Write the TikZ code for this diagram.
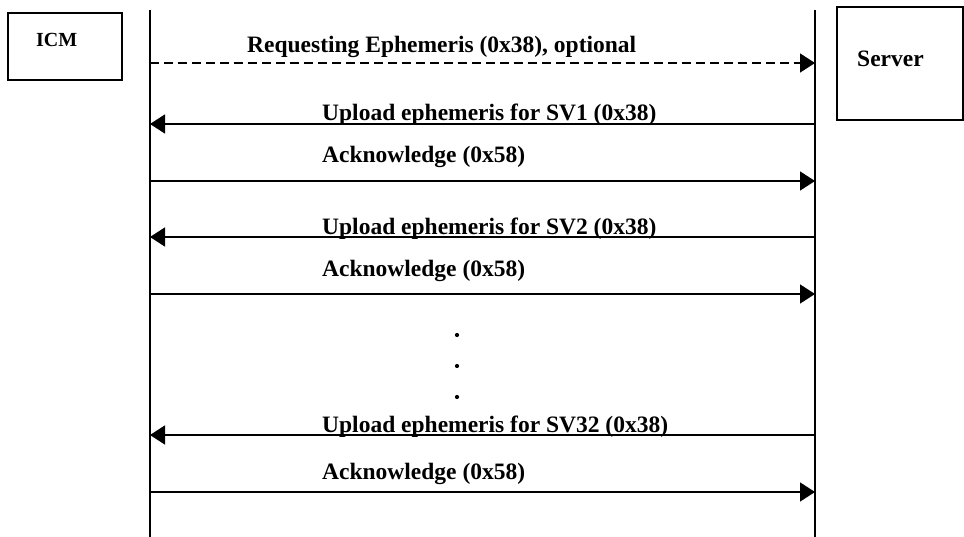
\documentclass[tikz,border=0pt]{standalone}
\usepackage{fontspec}
\setmainfont{Liberation Serif}
\usetikzlibrary{arrows.meta}
\begin{document}
\begin{tikzpicture}[x=1pt,y=-1pt,
  box/.style={draw,line width=1.5pt,inner sep=0pt},
  lbl/.style={anchor=base west,inner sep=0pt,font=\fontsize{23.5}{28}\selectfont\bfseries},
  lifeline/.style={line width=1.5pt},
  msg/.style={line width=1.6pt,-{Triangle[length=15pt,width=19pt]}},
  dmsg/.style={msg,dash pattern=on 9pt off 5pt},
  dotmark/.style={circle,fill=black,inner sep=0pt,minimum size=4.2pt}]
\useasboundingbox (0,0) rectangle (964,537);
% participant boxes
\node[box,minimum width=114pt,minimum height=67pt] (icmbox) at (65,46.5) {};
\node[lbl,font=\fontsize{20}{24}\selectfont\bfseries] (icm) at (36,47) {ICM};
\node[box,minimum width=126pt,minimum height=113pt] (srvbox) at (900,63.5) {};
\node[lbl] (srv) at (857,66.7) {Server};
% lifelines
\coordinate (Ltop) at (150,10); \coordinate (Lbot) at (150,537);
\coordinate (Rtop) at (815,10); \coordinate (Rbot) at (815,537);
\draw[lifeline] (Ltop) -- (Lbot);
\draw[lifeline] (Rtop) -- (Rbot);
% message anchor points
\foreach \i/\y in {1/63,2/124,3/181,4/237,5/294,6/435,7/492}{
  \coordinate (L\i) at (150,\y);
  \coordinate (R\i) at (815,\y);
}
\draw[dmsg] (L1) -- (R1);
\draw[msg] (R2) -- (L2);
\draw[msg] (L3) -- (R3);
\draw[msg] (R4) -- (L4);
\draw[msg] (L5) -- (R5);
\draw[msg] (R6) -- (L6);
\draw[msg] (L7) -- (R7);
% labels
\node[lbl] (m1) at (247,52.5) {Requesting Ephemeris (0x38), optional};
\node[lbl] (m2) at (322,120.5) {Upload ephemeris for SV1 (0x38)};
\node[lbl] (m3) at (322,163) {Acknowledge (0x58)};
\node[lbl] (m4) at (322,234.5) {Upload ephemeris for SV2 (0x38)};
\node[lbl] (m5) at (322,277) {Acknowledge (0x58)};
\node[lbl] (m6) at (322,432) {Upload ephemeris for SV32 (0x38)};
\node[lbl] (m7) at (322,479) {Acknowledge (0x58)};
% ellipsis dots
\node[dotmark] (d1) at (457,335) {};
\node[dotmark] (d2) at (457,366) {};
\node[dotmark] (d3) at (457,397) {};
\end{tikzpicture}
\end{document}
